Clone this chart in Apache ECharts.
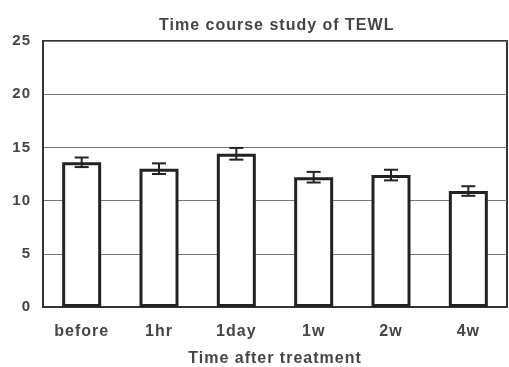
<!DOCTYPE html>
<html>
<head>
<meta charset="utf-8">
<script src="https://cdn.jsdelivr.net/npm/echarts@6/dist/echarts.min.js"></script>
<style>
  html, body { margin: 0; padding: 0; background: #fff; overflow: hidden; }
  #chart { width: 509px; height: 367px; }
</style>
</head>
<body>
<div id="chart"></div>
<script>
// Transepidermal water loss over time after treatment (mean ± error)
var categories = ['before', '1hr', '1day', '1w', '2w', '4w'];
var tewlMean = [13.6, 13.0, 14.4, 12.2, 12.4, 10.9];
var tewlErr = [0.45, 0.5, 0.55, 0.5, 0.5, 0.45];
var yTicks = [0, 5, 10, 15, 20, 25];

// Wide tracking for every text drawn on a canvas (also used when measuring)
(function () {
  var proto = CanvasRenderingContext2D.prototype;
  var fill = proto.fillText, measure = proto.measureText;
  var spacing = '1px';
  proto.fillText = function () { this.letterSpacing = spacing; return fill.apply(this, arguments); };
  proto.measureText = function () { this.letterSpacing = spacing; return measure.apply(this, arguments); };
})();

var errorData = categories.map(function (c, i) {
  return [i, tewlMean[i] - tewlErr[i], tewlMean[i] + tewlErr[i]];
});

var chart = echarts.init(document.getElementById('chart'));
var fontFam = '"Liberation Sans", Arial, sans-serif';
var ink = '#454545';

chart.setOption({
  backgroundColor: '#fff',
  animation: false,
  title: {
    text: 'Time course study of TEWL',
    left: 154,
    top: 12,
    textStyle: { fontFamily: fontFam, fontSize: 16, fontWeight: 'bold', color: ink }
  },
  grid: {
    left: 43, right: 2, top: 41, bottom: 60,
    show: true,
    borderColor: '#333',
    borderWidth: 2,
    outerBoundsMode: 'none',
    containLabel: false
  },
  xAxis: {
    type: 'category',
    data: categories,
    name: 'Time after treatment',
    nameLocation: 'middle',
    nameGap: 43,
    nameTextStyle: { fontFamily: fontFam, fontSize: 16, fontWeight: 'bold', color: ink },
    axisLine: { lineStyle: { color: '#333', width: 2 } },
    axisTick: { show: false },
    axisLabel: { fontFamily: fontFam, fontSize: 16, fontWeight: 'bold', color: ink, margin: 16 }
  },
  yAxis: {
    type: 'value',
    min: yTicks[0],
    max: yTicks[yTicks.length - 1],
    interval: 5,
    axisLine: { show: true, lineStyle: { color: '#333', width: 2 } },
    axisTick: { show: false },
    axisLabel: { fontFamily: fontFam, fontSize: 15, fontWeight: 'bold', color: ink, margin: 12 },
    splitLine: { lineStyle: { color: '#777', width: 1 } }
  },
  series: [
    {
      type: 'bar',
      data: tewlMean,
      barWidth: 39,
      itemStyle: { color: '#fff', borderColor: '#222', borderWidth: 3 },
      z: 2
    },
    {
      type: 'custom',
      data: errorData,
      z: 3,
      renderItem: function (params, api) {
        var x = api.value(0);
        var lo = api.coord([x, api.value(1)]);
        var hi = api.coord([x, api.value(2)]);
        var hw = 7;
        var style = { stroke: '#222', lineWidth: 2 };
        return {
          type: 'group',
          children: [
            { type: 'line', shape: { x1: lo[0], y1: lo[1], x2: hi[0], y2: hi[1] }, style: style },
            { type: 'line', shape: { x1: lo[0] - hw, y1: lo[1], x2: lo[0] + hw, y2: lo[1] }, style: style },
            { type: 'line', shape: { x1: hi[0] - hw, y1: hi[1], x2: hi[0] + hw, y2: hi[1] }, style: style }
          ]
        };
      }
    }
  ]
});
</script>
</body>
</html>
